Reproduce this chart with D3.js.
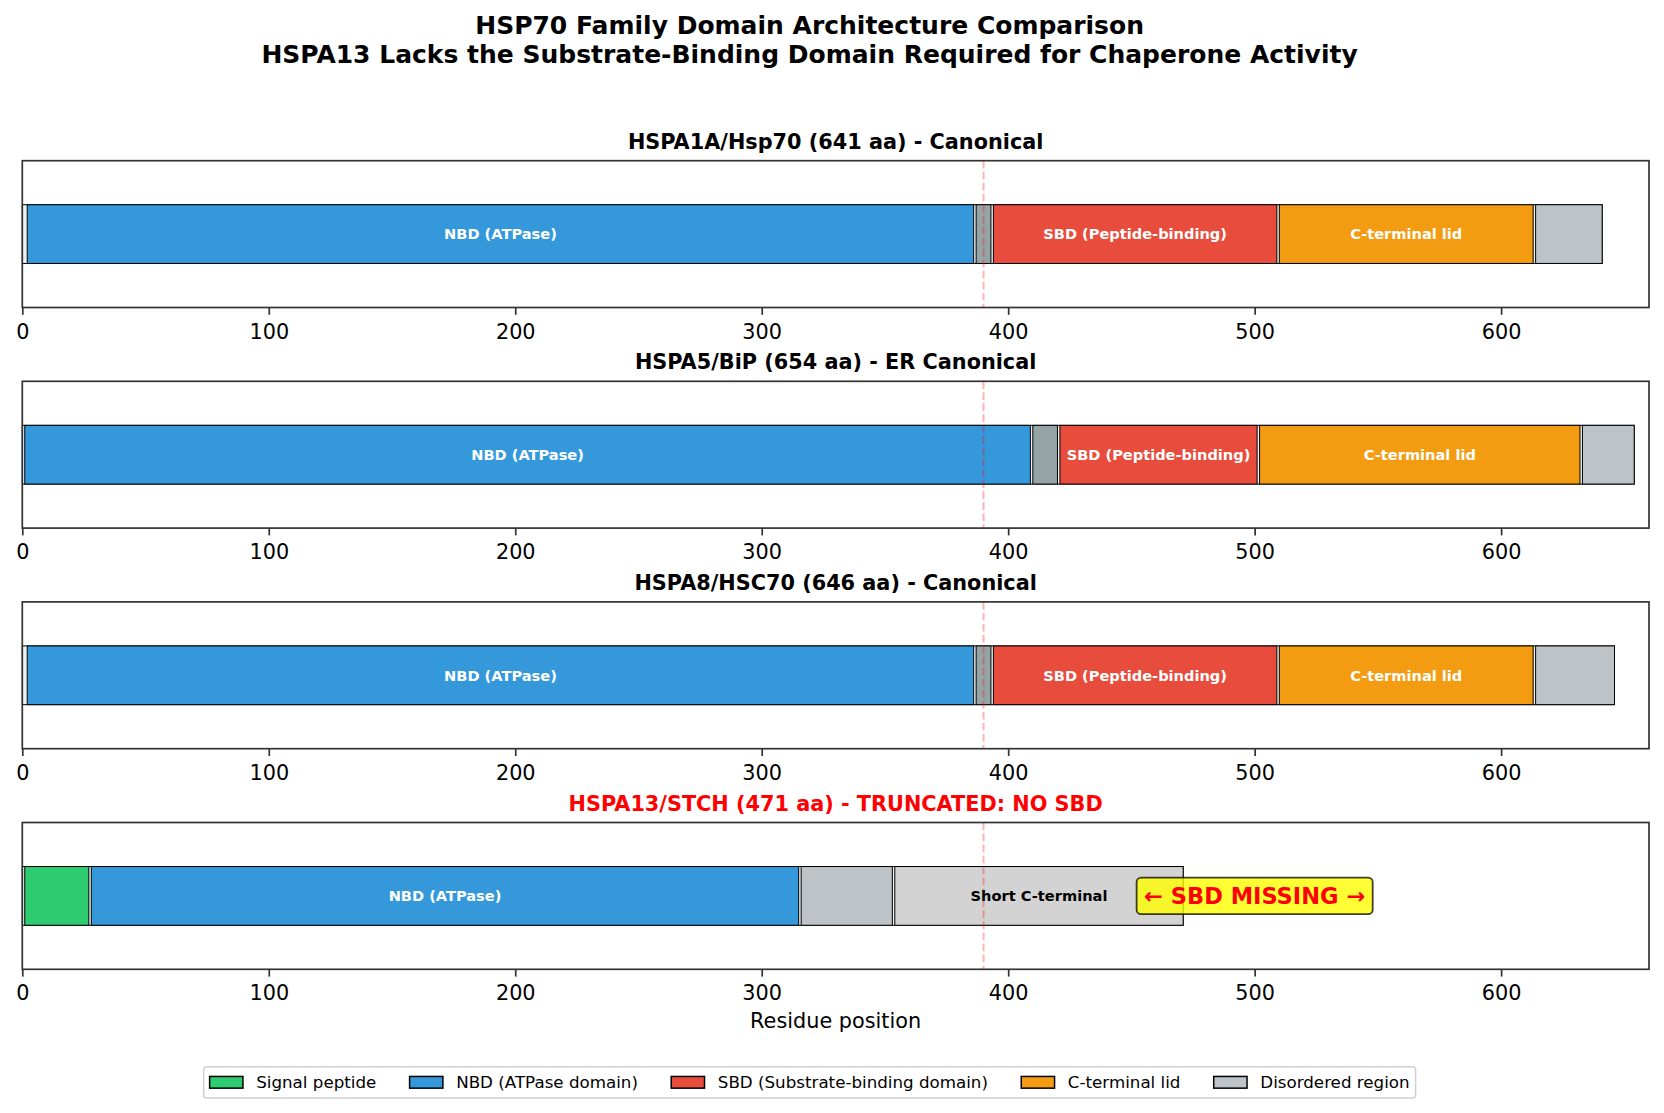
<!DOCTYPE html>
<html>
<head>
<meta charset="utf-8">
<script src="https://cdn.jsdelivr.net/npm/d3@7"></script>
<style>
  html, body { margin: 0; padding: 0; background: #fff; }
  svg { display: block; font-family: "DejaVu Sans", sans-serif; }
</style>
</head>
<body>
<div id="chart"></div>
<script>
// ---- data ----
const panelTitles = [
  "HSPA1A/Hsp70 (641 aa) - Canonical",
  "HSPA5/BiP (654 aa) - ER Canonical",
  "HSPA8/HSC70 (646 aa) - Canonical",
  "HSPA13/STCH (471 aa) - TRUNCATED: NO SBD"
];
const proteinLengths = [641, 654, 646, 471];

const hspa1aDomains = [
  { type: "nbd", start: 2, end: 386, label: "NBD (ATPase)" },
  { type: "linker", start: 387, end: 393, label: "" },
  { type: "sbd", start: 394, end: 509, label: "SBD (Peptide-binding)" },
  { type: "lid", start: 510, end: 613, label: "C-terminal lid" },
  { type: "disordered", start: 614, end: 641, label: "" }
];
const hspa5Domains = [
  { type: "nbd", start: 1, end: 409, label: "NBD (ATPase)" },
  { type: "linker", start: 410, end: 420, label: "" },
  { type: "sbd", start: 421, end: 501, label: "SBD (Peptide-binding)" },
  { type: "lid", start: 502, end: 632, label: "C-terminal lid" },
  { type: "disordered", start: 633, end: 654, label: "" }
];
const hspa8Domains = [
  { type: "nbd", start: 2, end: 386, label: "NBD (ATPase)" },
  { type: "linker", start: 387, end: 393, label: "" },
  { type: "sbd", start: 394, end: 509, label: "SBD (Peptide-binding)" },
  { type: "lid", start: 510, end: 613, label: "C-terminal lid" },
  { type: "disordered", start: 614, end: 646, label: "" }
];
const hspa13Domains = [
  { type: "signal", start: 1, end: 27, label: "" },
  { type: "nbd", start: 28, end: 315, label: "NBD (ATPase)" },
  { type: "disordered", start: 316, end: 353, label: "" },
  { type: "shortC", start: 354, end: 471, label: "Short C-terminal" }
];
const domainSets = [hspa1aDomains, hspa5Domains, hspa8Domains, hspa13Domains];

const sbdBoundary = 390;
const missingNote = { text: "\u2190 SBD MISSING \u2192", x: 500 };
const xTicks = [0, 100, 200, 300, 400, 500, 600];

const legendLabels = ["Signal peptide", "NBD (ATPase domain)", "SBD (Substrate-binding domain)", "C-terminal lid", "Disordered region"];
const legendTypes = ["signal", "nbd", "sbd", "lid", "disordered"];

// ---- styling ----
const colors = {
  signal: "#2ecc71",
  nbd: "#3498db",
  sbd: "#e74c3c",
  lid: "#f39c12",
  disordered: "#bdc3c7",
  linker: "#95a5a6",
  shortC: "#d3d3d3"
};

const W = 1664, H = 1113;
const axLeft = 22.3, axRight = 1649;
const panelTop0 = 160.7, panelStep = 220.6, panelH = 146.8;
const figCenter = 809.6;

const svg = d3.select("#chart").append("svg")
  .attr("width", W).attr("height", H)
  .attr("viewBox", [0, 0, W, H]);

svg.append("rect").attr("width", W).attr("height", H).attr("fill", "#fff");

// suptitle
const sup = svg.append("g")
  .attr("font-weight", "bold").attr("font-size", 25)
  .attr("text-anchor", "middle").attr("fill", "#000");
sup.append("text").attr("x", figCenter).attr("y", 33.5)
  .text("HSP70 Family Domain Architecture Comparison");
sup.append("text").attr("x", figCenter).attr("y", 62.5)
  .text("HSPA13 Lacks the Substrate-Binding Domain Required for Chaperone Activity");

const x = d3.scaleLinear().domain([0, 660]).range([axLeft, axRight]);

domainSets.forEach((domains, i) => {
  const top = panelTop0 + i * panelStep;
  const y = d3.scaleLinear().domain([-1, 1]).range([top + panelH, top]);
  const g = svg.append("g");

  // background bar for full protein length
  g.append("rect")
    .attr("x", x(0)).attr("width", x(proteinLengths[i]) - x(0))
    .attr("y", y(0.4)).attr("height", y(-0.4) - y(0.4))
    .attr("fill", "#ecf0f1").attr("stroke", "#000").attr("stroke-width", 1);

  g.selectAll("rect.dom")
    .data(domains)
    .join("rect")
    .attr("class", "dom")
    .attr("x", d => x(d.start))
    .attr("width", d => x(d.end) - x(d.start))
    .attr("y", y(0.4))
    .attr("height", y(-0.4) - y(0.4))
    .attr("fill", d => colors[d.type])
    .attr("stroke", "#000")
    .attr("stroke-width", 1);

  // SBD boundary marker
  g.append("line")
    .attr("x1", x(sbdBoundary)).attr("x2", x(sbdBoundary))
    .attr("y1", top).attr("y2", top + panelH)
    .attr("stroke", "#ff0000").attr("stroke-opacity", 0.3)
    .attr("stroke-width", 2).attr("stroke-dasharray", "7.7,3.3");

  g.selectAll("text.dlabel")
    .data(domains.filter(d => d.label))
    .join("text")
    .attr("class", "dlabel")
    .attr("x", d => x((d.start + d.end) / 2))
    .attr("y", y(0))
    .attr("dy", "0.36em")
    .attr("text-anchor", "middle")
    .attr("font-size", 14.6)
    .attr("font-weight", "bold")
    .attr("fill", d => d.type === "shortC" ? "#000" : "#fff")
    .text(d => d.label);

  if (i === 3) {
    const note = g.append("g");
    const t = note.append("text")
      .attr("x", x(missingNote.x)).attr("y", y(0)).attr("dy", "0.36em")
      .attr("text-anchor", "middle")
      .attr("font-size", 22.5).attr("font-weight", "bold")
      .attr("fill", "#ff0000")
      .text(missingNote.text);
    const bb = t.node().getBBox();
    note.insert("rect", "text")
      .attr("x", bb.x - 7.5).attr("y", y(0) - 18.3)
      .attr("width", bb.width + 15).attr("height", 36.6)
      .attr("rx", 4.5)
      .attr("fill", "#ffff00").attr("fill-opacity", 0.8)
      .attr("stroke", "#000").attr("stroke-opacity", 0.75).attr("stroke-width", 1.8);
  }

  // axis
  const ax = g.append("g")
    .attr("transform", `translate(0,${top + panelH})`)
    .call(d3.axisBottom(x).tickValues(xTicks).tickSize(7.3).tickPadding(9).tickFormat(d3.format("d")));
  ax.select(".domain").remove();
  ax.selectAll(".tick line").attr("stroke", "#333").attr("stroke-width", 1.7);
  ax.selectAll(".tick text")
    .attr("fill", "#000").attr("font-size", 20.8)
    .attr("font-family", "DejaVu Sans, sans-serif");

  // spines
  g.append("rect")
    .attr("x", axLeft).attr("y", top)
    .attr("width", axRight - axLeft).attr("height", panelH)
    .attr("fill", "none").attr("stroke", "#333").attr("stroke-width", 1.7);

  // panel title
  g.append("text")
    .attr("x", (axLeft + axRight) / 2).attr("y", top - 12)
    .attr("text-anchor", "middle")
    .attr("font-size", 20.8).attr("font-weight", "bold")
    .attr("fill", i === 3 ? "#ff0000" : "#000")
    .text(panelTitles[i]);
});

// x label
svg.append("text")
  .attr("x", (axLeft + axRight) / 2).attr("y", 1028)
  .attr("text-anchor", "middle").attr("font-size", 20.8).attr("fill", "#000")
  .text("Residue position");

// legend
const leg = svg.append("g");
const patchW = 33.3, patchH = 11.7, textPad = 13.3, colGap = 33.3;
const items = legendLabels.map((lab, k) => {
  const t = leg.append("text").attr("font-size", 16.7).attr("fill", "#000").text(lab);
  return { t, w: t.node().getComputedTextLength(), type: legendTypes[k] };
});
const total = d3.sum(items, d => patchW + textPad + d.w) + colGap * (items.length - 1);
let cx = figCenter - total / 2;
const legCy = 1082.3;
leg.insert("rect", "text")
  .attr("x", cx - 6).attr("y", 1066.7)
  .attr("width", total + 12).attr("height", 31.3)
  .attr("rx", 3).attr("fill", "#fff").attr("fill-opacity", 0.8)
  .attr("stroke", "#d0d0d0").attr("stroke-width", 1.5);
items.forEach(d => {
  leg.append("rect")
    .attr("x", cx).attr("y", legCy - patchH / 2)
    .attr("width", patchW).attr("height", patchH)
    .attr("fill", colors[d.type]).attr("stroke", "#000").attr("stroke-width", 1.5);
  d.t.attr("x", cx + patchW + textPad).attr("y", legCy).attr("dy", "0.36em");
  cx += patchW + textPad + d.w + colGap;
});
</script>
</body>
</html>
